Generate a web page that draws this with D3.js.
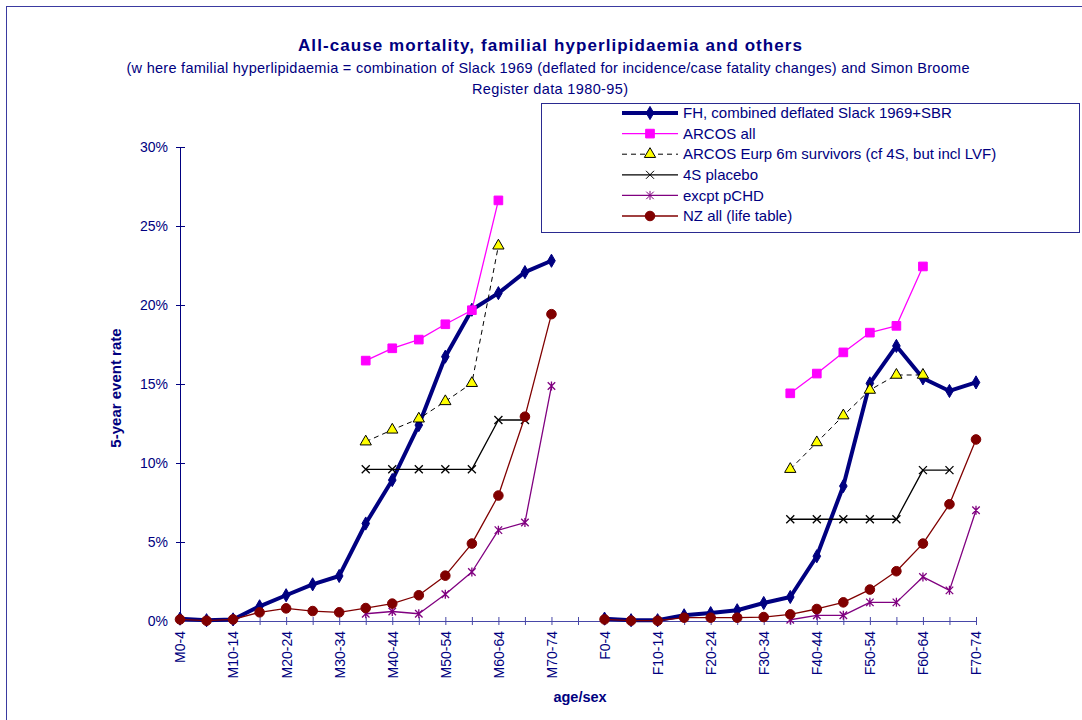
<!DOCTYPE html>
<html>
<head>
<meta charset="utf-8">
<script src="https://cdn.jsdelivr.net/npm/d3@7"></script>
<style>
  body { margin: 0; background: #fff; }
  svg { display: block; font-family: "Liberation Sans", Arial, sans-serif; }
</style>
</head>
<body>
<svg id="chart" width="1082" height="720"></svg>
<script>
const categories = [
  "M0-4", "M5-9", "M10-14", "M15-19", "M20-24", "M25-29", "M30-34", "M35-39",
  "M40-44", "M45-49", "M50-54", "M55-59", "M60-64", "M65-69", "M70-74", "",
  "F0-4", "F5-9", "F10-14", "F15-19", "F20-24", "F25-29", "F30-34", "F35-39",
  "F40-44", "F45-49", "F50-54", "F55-59", "F60-64", "F65-69", "F70-74",
];

const yTicks = [0, 5, 10, 15, 20, 25, 30];

const _ = null;
const fhCombined = [0.15, 0.05, 0.1, 0.93, 1.63, 2.32, 2.85, 6.17, 8.92, 12.4, 16.73, 19.7, 20.75, 22.08, 22.8, _,
  0.15, 0.05, 0.05, 0.36, 0.5, 0.68, 1.14, 1.52, 4.1, 8.54, 15.04, 17.41, 15.36, 14.56, 15.1];
const arcosAll = [_, _, _, _, _, _, _, 16.48, 17.26, 17.81, 18.78, 19.67, 26.62, _, _, _,
  _, _, _, _, _, _, _, 14.41, 15.66, 17.0, 18.25, 18.68, 22.44, _, _];
const arcosEurp = [_, _, _, _, _, _, _, 11.35, 12.1, 12.8, 13.9, 15.05, 23.75, _, _, _,
  _, _, _, _, _, _, _, 9.61, 11.3, 13.0, 14.62, 15.57, 15.57, _, _];
const fourS = [_, _, _, _, _, _, _, 9.6, 9.6, 9.6, 9.6, 9.6, 12.72, 12.72, _, _,
  _, _, _, _, _, _, _, 6.44, 6.44, 6.44, 6.44, 6.44, 9.55, 9.55, _];
const excptPCHD = [_, _, _, _, _, _, _, 0.46, 0.6, 0.46, 1.69, 3.1, 5.75, 6.23, 14.87, _,
  _, _, _, _, _, _, _, 0.08, 0.36, 0.36, 1.18, 1.18, 2.79, 1.94, 7.01];
const nzAll = [0.1, 0.02, 0.1, 0.55, 0.8, 0.63, 0.55, 0.82, 1.1, 1.63, 2.87, 4.9, 7.94, 12.93, 19.42, _,
  0.1, 0.02, 0.02, 0.21, 0.21, 0.21, 0.25, 0.42, 0.76, 1.18, 1.99, 3.15, 4.9, 7.39, 11.49];

// custom stroke markers like Excel's x and * markers
const symbolCross = {
  draw(ctx, size) {
    const r = Math.sqrt(size) / 2;
    ctx.moveTo(-r, -r); ctx.lineTo(r, r);
    ctx.moveTo(-r, r); ctx.lineTo(r, -r);
  },
};
const symbolStar = {
  draw(ctx, size) {
    const r = Math.sqrt(size) / 2;
    ctx.moveTo(-r, -r); ctx.lineTo(r, r);
    ctx.moveTo(-r, r); ctx.lineTo(r, -r);
    ctx.moveTo(0, -r * 1.2); ctx.lineTo(0, r * 1.2);
  },
};

const series = [
  { name: "FH, combined deflated Slack 1969+SBR", values: fhCombined, color: "#000080", width: 4,
    symbol: d3.symbolDiamond, size: 50, fill: "#000080", stroke: "#000080" },
  { name: "ARCOS all", values: arcosAll, color: "#FF00FF", width: 1.3,
    symbol: d3.symbolSquare, size: 75, fill: "#FF00FF", stroke: "#FF00FF" },
  { name: "ARCOS Eurp 6m survivors (cf 4S, but incl LVF)", values: arcosEurp, color: "#000000", width: 1, dash: "5,4",
    symbol: d3.symbolTriangle, size: 55, fill: "#FFFF00", stroke: "#000000" },
  { name: "4S placebo", values: fourS, color: "#000000", width: 1.3,
    symbol: symbolCross, size: 64, fill: "none", stroke: "#000000" },
  { name: "excpt pCHD", values: excptPCHD, color: "#800080", width: 1.3,
    symbol: symbolStar, size: 56, fill: "none", stroke: "#800080" },
  { name: "NZ all (life table)", values: nzAll, color: "#800000", width: 1.3,
    symbol: d3.symbolCircle, size: 72, fill: "#800000", stroke: "#800000" },
];

const navy = "#000080";
const svg = d3.select("#chart");

// outer chart border
svg.append("rect")
  .attr("x", 6.5).attr("y", 6.5)
  .attr("width", 1090).attr("height", 730)
  .attr("fill", "none").attr("stroke", "#3a3aa0").attr("stroke-width", 1);

// titles
svg.append("text")
  .attr("x", 550).attr("y", 51)
  .attr("text-anchor", "middle")
  .attr("font-size", "17px").attr("font-weight", "bold")
  .attr("textLength", 504).attr("lengthAdjust", "spacing")
  .attr("fill", navy)
  .text("All-cause mortality,  familial hyperlipidaemia and others");

svg.append("text")
  .attr("x", 548).attr("y", 73)
  .attr("text-anchor", "middle")
  .attr("font-size", "14.5px")
  .attr("textLength", 843).attr("lengthAdjust", "spacing")
  .attr("fill", navy)
  .text("(w here familial hyperlipidaemia = combination of Slack 1969 (deflated for incidence/case fatality changes) and Simon Broome");

svg.append("text")
  .attr("x", 550).attr("y", 94)
  .attr("text-anchor", "middle")
  .attr("font-size", "14.5px")
  .attr("textLength", 156).attr("lengthAdjust", "spacing")
  .attr("fill", navy)
  .text("Register data 1980-95)");

const x = d3.scalePoint().domain(categories).range([180, 976]);
const y = d3.scaleLinear().domain([0, 30]).range([621, 147]);

// y axis
const yAxis = svg.append("g")
  .attr("transform", "translate(180,0)")
  .call(d3.axisLeft(y).tickValues(yTicks).tickSize(4).tickPadding(8).tickFormat((d) => d + "%"));
yAxis.select(".domain").attr("stroke", navy);
yAxis.selectAll(".tick line").attr("stroke", navy).attr("x2", 5).attr("x1", -4);
yAxis.selectAll(".tick text")
  .attr("fill", navy).attr("font-size", "14px")
  .attr("font-family", "Liberation Sans, Arial, sans-serif");

// x axis
const xAxis = svg.append("g")
  .attr("transform", "translate(0,621)")
  .call(d3.axisBottom(x).tickSize(4).tickSizeOuter(0)
    .tickFormat((d, i) => (i % 2 === 0 ? d : "")));
xAxis.select(".domain").attr("stroke", "#4848a8");
xAxis.selectAll(".tick line").attr("stroke", "#4848a8").attr("y1", -4).attr("y2", 4);
xAxis.selectAll(".tick text")
  .attr("fill", navy).attr("font-size", "14px")
  .attr("font-family", "Liberation Sans, Arial, sans-serif")
  .attr("transform", "rotate(-90)")
  .attr("text-anchor", "end")
  .attr("x", -10).attr("y", 0).attr("dy", "0.35em");

// axis titles
svg.append("text")
  .attr("transform", "translate(121,388) rotate(-90)")
  .attr("text-anchor", "middle")
  .attr("font-size", "15px").attr("font-weight", "bold")
  .attr("fill", navy)
  .text("5-year event rate");

svg.append("text")
  .attr("x", 580).attr("y", 702)
  .attr("text-anchor", "middle")
  .attr("font-size", "14.5px").attr("font-weight", "bold")
  .attr("fill", navy)
  .text("age/sex");

// lines and markers
const line = d3.line()
  .defined((d) => d != null)
  .x((d, i) => x(categories[i]))
  .y((d) => y(d));

series.forEach((s) => {
  const g = svg.append("g");
  g.append("path")
    .attr("d", line(s.values))
    .attr("fill", "none")
    .attr("stroke", s.color)
    .attr("stroke-width", s.width)
    .attr("stroke-dasharray", s.dash || null)
    .attr("stroke-linejoin", "round");

  g.selectAll("path.marker")
    .data(s.values.map((v, i) => ({ v, i })).filter((d) => d.v != null))
    .enter()
    .append("path")
    .attr("class", "marker")
    .attr("transform", (d) => `translate(${x(categories[d.i])},${y(d.v)})`)
    .attr("d", d3.symbol(s.symbol, s.size))
    .attr("fill", s.fill)
    .attr("stroke", s.stroke)
    .attr("stroke-width", s.symbol === d3.symbolTriangle || s.fill !== "none" ? 1 : 1.3);
});

// legend
const legend = svg.append("g");
legend.append("rect")
  .attr("x", 541.5).attr("y", 103.5)
  .attr("width", 538).attr("height", 129)
  .attr("fill", "#fff").attr("stroke", "#2a2a90").attr("stroke-width", 1);

series.forEach((s, i) => {
  const ly = 113 + i * 20.6;
  const item = legend.append("g").attr("transform", `translate(0,${ly})`);
  item.append("line")
    .attr("x1", 622).attr("x2", 678)
    .attr("stroke", s.color)
    .attr("stroke-width", s.width)
    .attr("stroke-dasharray", s.dash || null);
  item.append("path")
    .attr("transform", "translate(650,0)")
    .attr("d", d3.symbol(s.symbol, s.size))
    .attr("fill", s.fill)
    .attr("stroke", s.stroke)
    .attr("stroke-width", 1);
  item.append("text")
    .attr("x", 683).attr("dy", "0.35em")
    .attr("font-size", "15px")
    .attr("fill", navy)
    .text(s.name);
});
</script>
</body>
</html>
